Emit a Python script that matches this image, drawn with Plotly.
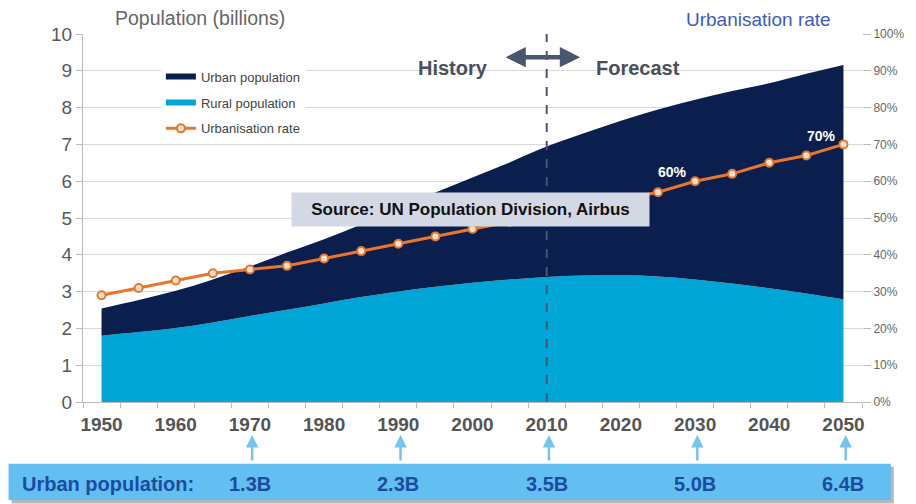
import plotly.graph_objects as go

# Dane
years = [1950, 1955, 1960, 1965, 1970, 1975, 1980, 1985, 1990, 1995, 2000,
         2005, 2010, 2015, 2020, 2025, 2030, 2035, 2040, 2045, 2050]
rural_pop = [1.80, 1.90, 2.01, 2.16, 2.34, 2.51, 2.68, 2.85, 3.00, 3.13, 3.24,
             3.33, 3.40, 3.44, 3.45, 3.41, 3.33, 3.22, 3.09, 2.95, 2.79]
urban_pop = [0.74, 0.87, 1.01, 1.17, 1.34, 1.55, 1.74, 1.97, 2.27, 2.56, 2.86,
             3.18, 3.54, 3.86, 4.19, 4.54, 4.88, 5.23, 5.57, 5.97, 6.37]
urban_rate = [29, 31, 33, 35, 36, 37, 39, 41, 43, 45, 47,
              49, 51, 53, 55, 57, 60, 62, 65, 67, 70]

label_years = [1970, 1990, 2010, 2030, 2050]
label_values = ['1.3B', '2.3B', '3.5B', '5.0B', '6.4B']

NAVY = '#0a1f4e'
CYAN = '#00a6d6'
ORANGE = '#e8762c'
FONT = 'Arial, Liberation Sans, sans-serif'

fig = go.Figure()

fig.add_trace(go.Scatter(x=years, y=rural_pop, name='Rural population', stackgroup='pop',
                         mode='none', fillcolor=CYAN, line_shape='spline',
                         legendgroup='b', legendrank=2, hoverinfo='skip'))
fig.add_trace(go.Scatter(x=years, y=urban_pop, name='Urban population', stackgroup='pop',
                         mode='none', fillcolor=NAVY, line_shape='spline',
                         legendgroup='a', legendrank=1, hoverinfo='skip'))
fig.add_trace(go.Scatter(x=years, y=urban_rate, name='Urbanisation rate', yaxis='y2',
                         mode='lines+markers', line=dict(color=ORANGE, width=3),
                         marker=dict(symbol='circle', size=8, color='#fbe3d2',
                                     line=dict(color=ORANGE, width=2)),
                         legendgroup='c', legendrank=3, hoverinfo='skip'))

# strona ma 8px marginesu body, więc figura jest o 8px mniejsza
fig.update_layout(
    width=908, height=496,
    margin=dict(l=75, r=49, t=26, b=102),
    paper_bgcolor='white', plot_bgcolor='white',
    font=dict(family=FONT, color='#555555'),
    showlegend=True,
    legend=dict(x=0.100, y=0.925, xanchor='left', yanchor='top', bgcolor='white',
                font=dict(size=13, color='#444444'), tracegroupgap=6,
                traceorder='grouped', itemwidth=30),
    xaxis=dict(range=[1947.5, 2052.5], tickvals=list(range(1950, 2051, 10)),
               showgrid=False, zeroline=False, showline=True, linecolor='#bbbbbb',
               ticks='', tickfont=dict(size=19, color='#555555', family=FONT, weight='bold'),
               ticklabelstandoff=5,
               minor=dict(ticks='outside', tick0=1947.5, dtick=5, ticklen=5,
                          tickcolor='#bbbbbb', showgrid=False)),
    yaxis=dict(range=[0, 10], dtick=1, showgrid=True, gridcolor='#d9d9d9',
               zeroline=False, showline=True, linecolor='#bbbbbb',
               ticks='outside', ticklen=6, tickcolor='#bbbbbb',
               tickfont=dict(size=19, color='#595959')),
    yaxis2=dict(range=[0, 100], dtick=10, overlaying='y', side='right',
                ticksuffix='%', showgrid=False, zeroline=False,
                ticks='outside', ticklen=8, tickcolor='#bbbbbb',
                tickfont=dict(size=12, color='#666666')),
)

# Linia podziału historia/prognoza
fig.add_shape(type='line', x0=2010, x1=2010, y0=0, y1=1, xref='x', yref='paper',
              line=dict(color='#4a5570', width=2, dash='dash'), layer='above')

# Dolny pasek
fig.add_shape(type='rect', xref='paper', yref='paper', x0=-0.0918, x1=1.0408,
              y0=-0.276, y1=-0.176, fillcolor='#b8b8b8', line_width=0, layer='below')
fig.add_shape(type='rect', xref='paper', yref='paper', x0=-0.0956, x1=1.0370,
              y0=-0.266, y1=-0.168, fillcolor='#63bff2', line_width=0, layer='below')

annotations = [
    dict(text='Population (billions)', xref='paper', yref='paper', x=0.038, y=1.043,
         xanchor='left', yanchor='middle', showarrow=False,
         font=dict(size=19.5, color='#666666')),
    dict(text='Urbanisation rate', xref='paper', yref='paper', x=0.9625, y=1.04,
         xanchor='right', yanchor='middle', showarrow=False,
         font=dict(size=19, color='#3d5bbf')),
    dict(text='<b>History</b>', xref='x', yref='paper', x=1997.4, y=0.943,
         showarrow=False, font=dict(size=20, color='#4b4f5c')),
    dict(text='<b>Forecast</b>', xref='x', yref='paper', x=2022.3, y=0.943,
         showarrow=False, font=dict(size=20, color='#4b4f5c')),
    dict(text='', xref='x', yref='paper', x=2014.5, y=0.937, ax=-76, ay=0,
         showarrow=True, arrowside='end+start', arrowhead=2, arrowsize=0.9,
         arrowwidth=4.5, arrowcolor='#4a5570', standoff=0, startstandoff=0),
    dict(text='<b>Source: UN Population Division, Airbus</b>', xref='x', yref='paper',
         x=1999.7, y=0.523, showarrow=False, width=355, height=31,
         bgcolor='#d3d9e4', font=dict(size=17, color='#111111')),
    dict(text='<b>60%</b>', xref='x', yref='y2', x=2026.9, y=62.6, showarrow=False,
         font=dict(size=14, color='white')),
    dict(text='<b>70%</b>', xref='x', yref='y2', x=2047.1, y=72.4, showarrow=False,
         font=dict(size=14, color='white')),
    dict(text='<b>Urban population:</b>', xref='paper', yref='paper', x=-0.0803, y=-0.222,
         xanchor='left', yanchor='middle', showarrow=False,
         font=dict(size=20, color='#1a4d9f')),
]
for yr, val in zip(label_years, label_values):
    annotations.append(dict(text='<b>' + val + '</b>', xref='x', yref='paper', x=yr, y=-0.222,
                            xanchor='center', yanchor='middle', showarrow=False,
                            font=dict(size=20, color='#1a4d9f')))
    annotations.append(dict(text='', xref='x', yref='paper', x=yr + 0.3, y=-0.09, ax=0, ay=27,
                            showarrow=True, arrowhead=2, arrowsize=1, arrowwidth=2.5,
                            arrowcolor='#74c4ee', standoff=0))
fig.update_layout(annotations=annotations)

fig.write_html('out.html')
